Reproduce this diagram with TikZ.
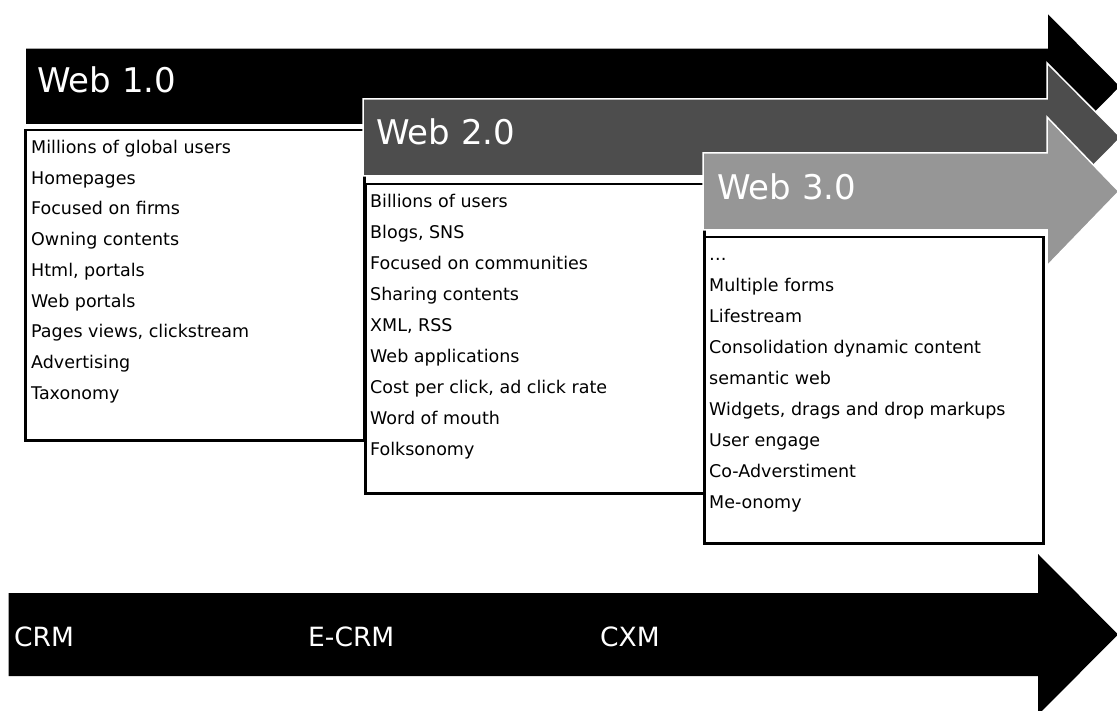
\documentclass[tikz,border=0pt]{standalone}
\usepackage{fontspec}
\setmainfont{DejaVu Sans}
\begin{document}
\begin{tikzpicture}[x=1pt,y=-1pt,
  arr/.style={draw=white,line width=1.5pt,line join=miter},
  listbox/.style={draw=black,fill=white,line width=2.5pt,anchor=north west,inner sep=0pt},
  itm/.style={anchor=base west,inner sep=0pt,font=\fontsize{17.5}{20}\selectfont},
  ttl/.style={anchor=base west,inner sep=0pt,text=white,font=\fontsize{34}{40}\selectfont},
  blbl/.style={anchor=base west,inner sep=0pt,text=white,font=\fontsize{26.5}{30}\selectfont}]
\useasboundingbox (0,0) rectangle (1117,711);
\clip (0,0) rectangle (1117,711);
\definecolor{darkg}{RGB}{77,77,77}
\definecolor{lightg}{RGB}{150,150,150}

% Web 1.0 arrow
\fill[arr,fill=black] (25,48) -- (1047,48) -- (1047,12) -- (1121,86.5) -- (1047,161) -- (1047,125) -- (25,125) -- cycle;
\node[ttl] (w1) at (37,93) {Web 1.0};
\node[listbox,minimum width=339pt,minimum height=310pt] (box1) at (24,129) {};
\foreach \t [count=\k from 0] in {Millions of global users,Homepages,Focused on firms,Owning contents,{Html, portals},Web portals,{Pages views, clickstream},Advertising,Taxonomy}
  \node[itm] (a\k) at (31,153.3+30.75*\k) {\t};

% Web 2.0 arrow
\fill[arr,fill=darkg] (363,99) -- (1047,99) -- (1047,63) -- (1121,137.5) -- (1047,212) -- (1047,176) -- (363,176) -- cycle;
\node[ttl] (w2) at (376,145) {Web 2.0};
\node[listbox,minimum width=339pt,minimum height=309pt] (box2) at (364,183) {};
\foreach \t [count=\k from 0] in {Billions of users,{Blogs, SNS},Focused on communities,Sharing contents,{XML, RSS},Web applications,{Cost per click, ad click rate},Word of mouth,Folksonomy}
  \node[itm] (b\k) at (370,207.3+31*\k) {\t};

% Web 3.0 arrow
\fill[arr,fill=lightg] (703,153) -- (1047,153) -- (1047,117) -- (1119,191.5) -- (1047,266) -- (1047,230) -- (703,230) -- cycle;
\node[ttl] (w3) at (717,200) {Web 3.0};
\node[listbox,minimum width=339pt,minimum height=306pt] (box3) at (703,236) {};
\foreach \t [count=\k from 0] in {…,Multiple forms,Lifestream,Consolidation dynamic content,semantic web,{Widgets, drags and drop markups},User engage,Co-Adverstiment,Me-onomy}
  \node[itm] (c\k) at (709,260.8+30.9*\k) {\t};

% bottom arrow
\fill[fill=black] (8.5,593) -- (1038,593) -- (1038,554) -- (1118,634.5) -- (1038,715) -- (1038,676) -- (8.5,676) -- cycle;
\node[blbl] (crm) at (14,646) {CRM};
\node[blbl] (ecrm) at (308,646) {E-CRM};
\node[blbl] (cxm) at (600,646) {CXM};
\end{tikzpicture}
\end{document}
